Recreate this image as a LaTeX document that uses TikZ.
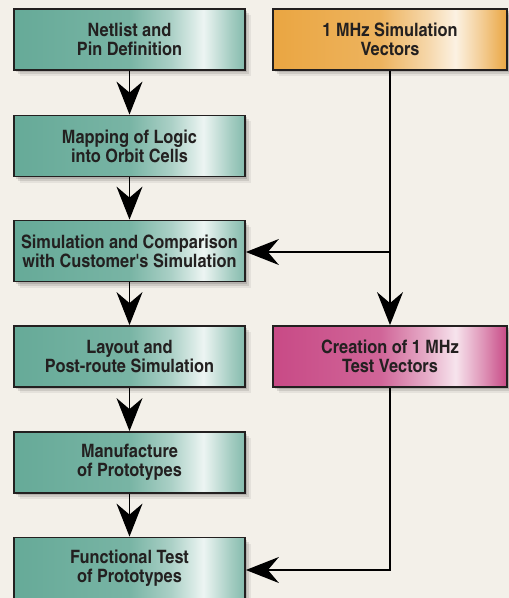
\documentclass[tikz,border=0pt]{standalone}
\usepackage{fontspec}
\newfontfamily\boxfont{texgyreheroscn-bold.otf}[FakeStretch=1.08]
\usetikzlibrary{arrows.meta,shadows}
\definecolor{bgc}{RGB}{243,240,233}
\definecolor{tealc}{RGB}{102,170,152}
\definecolor{orangec}{RGB}{234,166,66}
\definecolor{magc}{RGB}{200,74,134}
\definecolor{inkc}{RGB}{35,32,32}
\pgfdeclarehorizontalshading{tealshade}{100bp}{color(0bp)=(tealc); color(25bp)=(tealc); color(50bp)=(tealc!88!white); color(59bp)=(tealc!55!white); color(66bp)=(white!88!tealc); color(72bp)=(tealc!60!white); color(75bp)=(tealc!80!white); color(100bp)=(tealc)}
\pgfdeclarehorizontalshading{orangeshade}{100bp}{color(0bp)=(orangec); color(25bp)=(orangec); color(48bp)=(orangec!85!white); color(58bp)=(orangec!45!white); color(64bp)=(white!85!orangec); color(70bp)=(orangec!60!white); color(75bp)=(orangec); color(100bp)=(orangec)}
\pgfdeclarehorizontalshading{magshade}{100bp}{color(0bp)=(magc); color(25bp)=(magc); color(48bp)=(magc!85!white); color(58bp)=(magc!45!white); color(64bp)=(white!85!magc); color(70bp)=(magc!60!white); color(75bp)=(magc); color(100bp)=(magc)}
\tikzset{
  box/.style={draw=inkc, line width=1.8bp, minimum width=231bp, minimum height=61bp,
    inner sep=0pt, align=center, text=inkc,
    font=\boxfont\fontsize{18.5}{19}\selectfont,
    drop shadow={shadow xshift=2bp, shadow yshift=-2bp, fill=black, opacity=0.12},
    drop shadow={shadow xshift=4bp, shadow yshift=-4bp, fill=black, opacity=0.10},
    drop shadow={shadow xshift=6bp, shadow yshift=-6bp, fill=black, opacity=0.06}},
  tealbox/.style={box, shading=tealshade},
  orangebox/.style={box, shading=orangeshade, minimum width=234bp},
  magbox/.style={box, shading=magshade, minimum width=234bp},
  conn/.style={draw=black, line width=1.4bp, -{Stealth[length=33bp,width=26bp,inset=11bp]}}
}
\begin{document}
\begin{tikzpicture}[x=1bp,y=-1bp]
\useasboundingbox (0,0) rectangle (509,598);
\fill[bgc] (0,0) rectangle (509,598);
\begin{scope}
\clip (0,0) rectangle (509,598);
\node[tealbox] (b1) at (129.5,39.5) {Netlist and\\Pin Definition};
\node[tealbox] (b2) at (129.5,146) {Mapping of Logic\\into Orbit Cells};
\node[tealbox] (b3) at (129.5,251) {Simulation and Comparison\\with Customer's Simulation};
\node[tealbox] (b4) at (129.5,356.5) {Layout and\\Post-route Simulation};
\node[tealbox] (b5) at (129.5,462.5) {Manufacture\\of Prototypes};
\node[tealbox] (b6) at (129.5,568) {Functional Test\\of Prototypes};
\node[orangebox] (v) at (390,39.5) {1 MHz Simulation\\Vectors};
\node[magbox] (c) at (390,356.5) {Creation of 1 MHz\\Test Vectors};
\end{scope}
\coordinate (j) at (390,252);
\coordinate (k) at (390,570);
\draw[conn] (b1.south) -- (b2.north);
\draw[conn] (b2.south) -- (b3.north);
\draw[conn] (b3.south) -- (b4.north);
\draw[conn] (b4.south) -- (b5.north);
\draw[conn] (b5.south) -- (b6.north);
\draw[conn] (v.south) -- (c.north);
\draw[conn] (j) -- (b3.east |- j);
\draw[conn] (c.south) -- (k) -- (b6.east |- k);
\end{tikzpicture}
\end{document}
